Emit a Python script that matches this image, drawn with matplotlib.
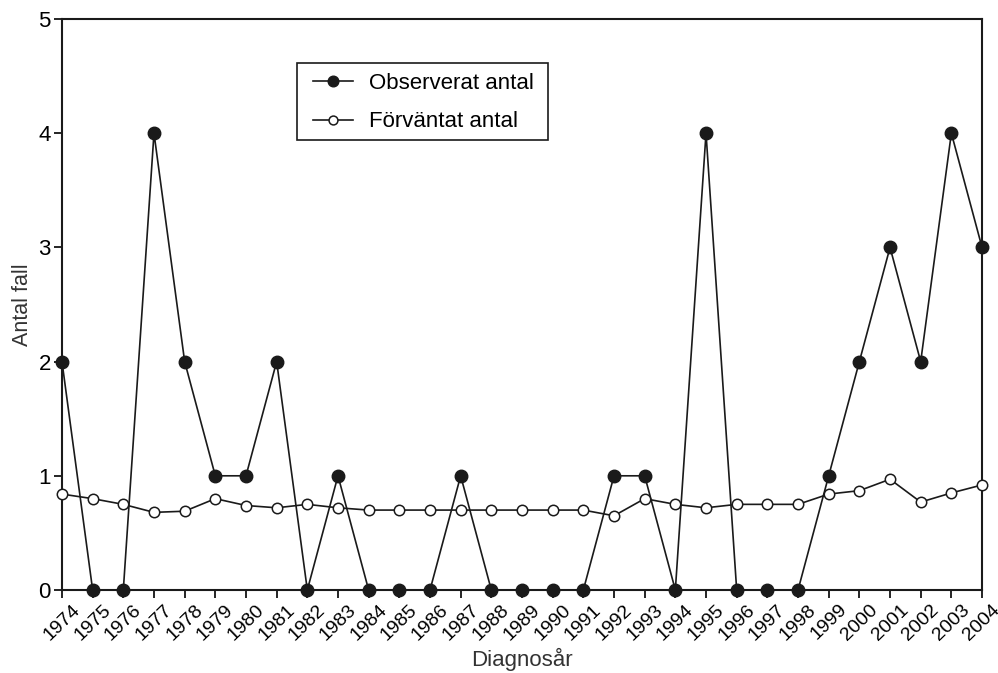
import matplotlib
matplotlib.use("Agg")
import matplotlib.pyplot as plt
import matplotlib.transforms as mtransforms
from matplotlib.patches import Rectangle

plt.rcParams['font.family'] = ['Liberation Sans', 'DejaVu Sans']

years = list(range(1974, 2005))
observed = [2, 0, 0, 4, 2, 1, 1, 2, 0, 1, 0, 0, 0, 1, 0, 0, 0, 0, 1, 1, 0, 4, 0, 0, 0, 1, 2, 3, 2, 4, 3]
expected = [0.84, 0.80, 0.75, 0.68, 0.69, 0.80, 0.74, 0.72, 0.75, 0.72, 0.70, 0.70, 0.70, 0.70, 0.70, 0.70,
            0.70, 0.70, 0.65, 0.80, 0.75, 0.72, 0.75, 0.75, 0.75, 0.84, 0.87, 0.97, 0.77, 0.85, 0.92]

W, H = 998, 673
fig = plt.figure(figsize=(W / 100, H / 100), dpi=100)
ax = fig.add_axes([0.0621, 0.1233, 0.9219, 0.8485])

ax.plot(years, observed, color='#1a1a1a', lw=1.2, marker='o', ms=9, mfc='#1a1a1a', mec='#1a1a1a',
        label='Observerat antal', clip_on=False, zorder=3)
ax.plot(years, expected, color='#1a1a1a', lw=1.2, marker='o', ms=7.5, mfc='white', mec='#1a1a1a', mew=1.1,
        label='Förväntat antal', clip_on=False, zorder=4)

ax.set_xlim(1974, 2004)
ax.set_ylim(0, 5)
ax.set_xticks(years)
ax.set_xticklabels([str(y) for y in years], rotation=44, ha='center', va='top', fontsize=14)
labels = ax.get_xticklabels()
for i, lbl in enumerate(labels):
    dx = -10 if i < len(labels) - 1 else -14
    offset = mtransforms.ScaledTranslation(dx / 100, 0, fig.dpi_scale_trans)
    lbl.set_transform(lbl.get_transform() + offset)
ax.set_yticks([0, 1, 2, 3, 4, 5])
ax.tick_params(axis='y', labelsize=16, direction='out', length=6, width=1.2, pad=2)
ax.tick_params(axis='x', direction='out', length=6, width=1.2, pad=2)
for s in ax.spines.values():
    s.set_linewidth(1.5)
    s.set_color('#1a1a1a')

ax.set_xlabel('Diagnosår', fontsize=16, color='#333333', labelpad=3)
ax.set_ylabel('Antal fall', fontsize=15.5, color='#333333', labelpad=4)

# legend box (frame drawn separately to mimic uneven padding)
frame = Rectangle((297 / W, 1 - 140 / H), (548 - 297) / W, (140 - 63) / H,
                  transform=fig.transFigure, fill=True, facecolor='white',
                  edgecolor='#1a1a1a', lw=1.2, zorder=5, clip_on=False)
ax.add_patch(frame)
leg = ax.legend(loc='upper left', bbox_to_anchor=((313 - 62) / 920, (590 - 73) / 571), fontsize=16,
                frameon=False, handlelength=1.8, handletextpad=0.7, borderpad=0, labelspacing=0.78,
                markerscale=0.85, borderaxespad=0)
leg.set_zorder(6)

fig.savefig('out.png', dpi=100)
